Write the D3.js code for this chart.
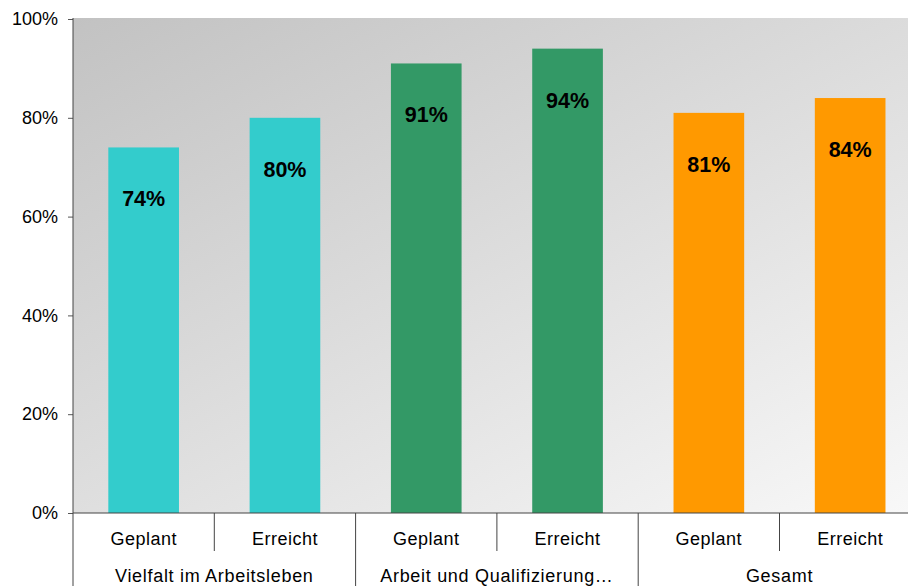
<!DOCTYPE html>
<html>
<head>
<meta charset="utf-8">
<script src="https://cdn.jsdelivr.net/npm/d3@7.9.0/dist/d3.min.js"></script>
<style>
  body { margin: 0; background: #fff; }
  svg { display: block; font-family: "Liberation Sans", Arial, sans-serif; }
</style>
</head>
<body>
<svg id="chart" width="908" height="586"></svg>
<script>
// --- data ---
const groups = ["Vielfalt im Arbeitsleben", "Arbeit und Qualifizierung…", "Gesamt"];
const subLabels = ["Geplant", "Erreicht"];
const values = [74, 80, 91, 94, 81, 84];
const groupColors = ["#33cccc", "#339966", "#ff9900"];
const yTicks = [0, 20, 40, 60, 80, 100];

const svg = d3.select("#chart");
const margin = { top: 18, left: 73 };
const plotBottom = 513;
const bandW = 141.3;

// flat list of bars
const bars = values.map((v, i) => ({
  key: i,
  group: Math.floor(i / 2),
  sub: subLabels[i % 2],
  value: v
}));

const x = d3.scaleBand().domain(bars.map(d => d.key))
  .range([margin.left, margin.left + bandW * bars.length])
  .paddingInner(0.5).paddingOuter(0.25);
const xFull = d3.scaleBand().domain(bars.map(d => d.key))
  .range([margin.left, margin.left + bandW * bars.length]);
const y = d3.scaleLinear().domain([0, 100]).range([plotBottom, 19]);

// background gradient
const grad = svg.append("defs").append("linearGradient")
  .attr("id", "bg")
  .attr("gradientUnits", "userSpaceOnUse")
  .attr("x1", 73).attr("y1", 18).attr("x2", 457).attr("y2", 750);
grad.append("stop").attr("offset", "0%").attr("stop-color", "#c2c2c2");
grad.append("stop").attr("offset", "100%").attr("stop-color", "#f8f8f8");

svg.append("rect")
  .attr("x", margin.left).attr("y", margin.top)
  .attr("width", 908 - margin.left).attr("height", plotBottom - margin.top)
  .attr("fill", "url(#bg)");

// bars
svg.selectAll(".bar")
  .data(bars)
  .join("rect")
  .attr("class", "bar")
  .attr("x", d => x(d.key))
  .attr("y", d => y(d.value))
  .attr("width", x.bandwidth())
  .attr("height", d => y(0) - y(d.value))
  .attr("fill", d => groupColors[d.group]);

// value labels
svg.selectAll(".val")
  .data(bars)
  .join("text")
  .attr("class", "val")
  .attr("x", d => x(d.key) + x.bandwidth() / 2)
  .attr("y", d => y(d.value) + 59)
  .attr("text-anchor", "middle")
  .attr("font-size", 21.5)
  .attr("font-weight", "bold")
  .attr("fill", "#000")
  .text(d => d.value + "%");

// y axis
const yAxis = svg.append("g")
  .attr("transform", `translate(${margin.left},0)`)
  .call(d3.axisLeft(y).tickValues(yTicks).tickFormat(d => d + "%").tickSize(5).tickSizeOuter(0));
yAxis.select(".domain").remove();
yAxis.selectAll(".tick line").attr("stroke", "#555");
yAxis.selectAll(".tick text")
  .attr("x", -15)
  .attr("font-size", 18)
  .attr("font-family", "Liberation Sans, Arial, sans-serif")
  .attr("fill", "#000");

const axisColor = "#444";
svg.append("line")
  .attr("x1", margin.left).attr("x2", margin.left)
  .attr("y1", margin.top).attr("y2", 586)
  .attr("stroke", axisColor);
svg.append("line")
  .attr("x1", margin.left).attr("x2", 908)
  .attr("y1", plotBottom).attr("y2", plotBottom)
  .attr("stroke", axisColor);

// category separators
svg.selectAll(".sep")
  .data(bars.slice(1))
  .join("line")
  .attr("class", "sep")
  .attr("x1", d => xFull(d.key)).attr("x2", d => xFull(d.key))
  .attr("y1", plotBottom)
  .attr("y2", d => d.key % 2 === 0 ? 586 : 551)
  .attr("stroke", axisColor);

// sub labels
svg.selectAll(".sub")
  .data(bars)
  .join("text")
  .attr("class", "sub")
  .attr("x", d => xFull(d.key) + xFull.bandwidth() / 2)
  .attr("y", 545)
  .attr("text-anchor", "middle")
  .attr("font-size", 18)
  .attr("letter-spacing", 0.5)
  .attr("fill", "#000")
  .text(d => d.sub);

// group labels
svg.selectAll(".grp")
  .data(groups)
  .join("text")
  .attr("class", "grp")
  .attr("x", (d, i) => xFull(i * 2) + xFull.bandwidth())
  .attr("y", 582)
  .attr("text-anchor", "middle")
  .attr("font-size", 18)
  .attr("letter-spacing", 0.7)
  .attr("fill", "#000")
  .text(d => d);
</script>
</body>
</html>
